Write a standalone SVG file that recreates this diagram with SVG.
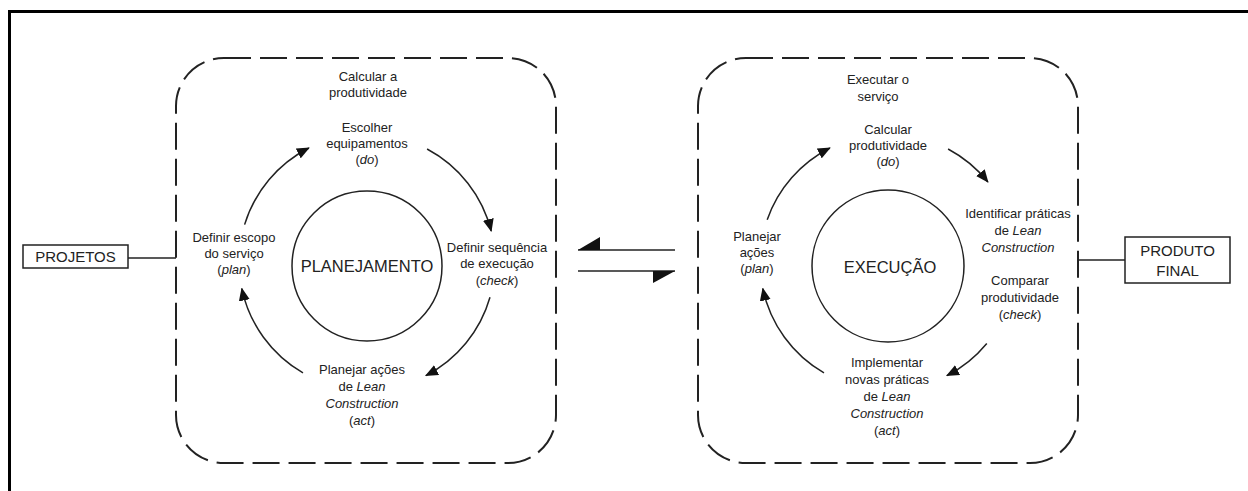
<svg xmlns="http://www.w3.org/2000/svg" width="1248" height="491" viewBox="0 0 1248 491">
<style>
text{font-family:"Liberation Sans",Arial,sans-serif;fill:#222;}
.lbl{font-size:13px;text-anchor:middle;}
.big{font-size:16.5px;text-anchor:middle;}
.box{font-size:15px;text-anchor:middle;}
.panel{fill:none;stroke:#222;stroke-width:2;stroke-dasharray:27 9;}
.ring{fill:none;stroke:#222;stroke-width:1.5;}
.arc{fill:none;stroke:#222;stroke-width:1.5;marker-end:url(#ah);}
.ln{fill:none;stroke:#222;stroke-width:1.5;}
.rect{fill:#fff;stroke:#222;stroke-width:1.5;}
</style>
<defs>
<marker id="ah" markerUnits="userSpaceOnUse" markerWidth="13" markerHeight="11" viewBox="0 0 13 11" refX="12" refY="5.5" orient="auto">
<path d="M0,0 L13,5.5 L0,11 z" fill="#111"/>
</marker>
</defs>
<rect width="1248" height="491" fill="#fff"/>
<g id="frame"><path d="M9.5,491 V11.5 H1248" fill="none" stroke="#000" stroke-width="3"/></g>

<g id="panel-planejamento">
<rect class="panel" x="176" y="58" width="380" height="405" rx="48" ry="48"/>
<circle class="ring" cx="367" cy="266" r="75"/>
<text class="big" x="367" y="272">PLANEJAMENTO</text>
<text class="lbl" x="368" y="81">Calcular a<tspan x="368" y="97">produtividade</tspan></text>
<text class="lbl" x="367" y="132">Escolher<tspan x="367" y="148">equipamentos</tspan><tspan x="367" y="164">(<tspan font-style="italic">do</tspan>)</tspan></text>
<text class="lbl" x="234" y="242">Definir escopo<tspan x="234" y="258">do serviço</tspan><tspan x="234" y="274">(<tspan font-style="italic">plan</tspan>)</tspan></text>
<text class="lbl" x="497" y="252">Definir sequência<tspan x="497" y="268">de execução</tspan><tspan x="497" y="285">(<tspan font-style="italic">check</tspan>)</tspan></text>
<text class="lbl" x="362" y="374">Planejar ações<tspan x="362" y="391">de <tspan font-style="italic">Lean</tspan></tspan><tspan x="362" y="408" font-style="italic">Construction</tspan><tspan x="362" y="425">(<tspan font-style="italic">act</tspan>)</tspan></text>
</g>

<g id="panel-execucao">
<rect class="panel" x="698" y="58" width="380" height="405" rx="48" ry="48"/>
<circle class="ring" cx="888" cy="266" r="76"/>
<text class="big" x="890" y="273">EXECUÇÃO</text>
<text class="lbl" x="878" y="84">Executar o<tspan x="878" y="101">serviço</tspan></text>
<text class="lbl" x="888" y="134">Calcular<tspan x="888" y="150">produtividade</tspan><tspan x="888" y="166">(<tspan font-style="italic">do</tspan>)</tspan></text>
<text class="lbl" x="1018" y="218">Identificar práticas<tspan x="1018" y="235">de <tspan font-style="italic">Lean</tspan></tspan><tspan x="1018" y="252" font-style="italic">Construction</tspan></text>
<text class="lbl" x="1020" y="285">Comparar<tspan x="1020" y="302">produtividade</tspan><tspan x="1020" y="319">(<tspan font-style="italic">check</tspan>)</tspan></text>
<text class="lbl" x="757" y="241">Planejar<tspan x="757" y="257">ações</tspan><tspan x="757" y="273">(<tspan font-style="italic">plan</tspan>)</tspan></text>
<text class="lbl" x="887" y="367">Implementar<tspan x="887" y="384">novas práticas</tspan><tspan x="887" y="401">de <tspan font-style="italic">Lean</tspan></tspan><tspan x="887" y="418" font-style="italic">Construction</tspan><tspan x="887" y="435">(<tspan font-style="italic">act</tspan>)</tspan></text>
</g>

<g id="projetos">
<rect class="rect" x="23" y="245" width="105" height="23"/>
<text class="box" x="75.5" y="262">PROJETOS</text>
</g>

<g id="produto-final">
<rect class="rect" x="1125" y="237" width="105" height="46"/>
<text class="box" x="1177.5" y="256">PRODUTO<tspan x="1177.5" y="276">FINAL</tspan></text>
</g>

<g id="connectors">
<path class="arc" d="M244.6,224.6 A128,128 0 0 1 308.9,148"/>
<path class="arc" d="M427.1,149 A128,128 0 0 1 491.2,231"/>
<path class="arc" d="M490,297.3 A128,128 0 0 1 425.9,375.6"/>
<path class="arc" d="M303,372.9 A128,128 0 0 1 241.8,288.6"/>
<path class="arc" d="M767.2,219.7 A128,128 0 0 1 829.9,148"/>
<path class="arc" d="M948.1,149 A128,128 0 0 1 987.9,182"/>
<path class="arc" d="M986.8,343.4 A128,128 0 0 1 946.9,375.6"/>
<path class="arc" d="M824,372.9 A128,128 0 0 1 762.8,288.6"/>
<path class="ln" d="M128,258 H176"/>
<path class="ln" d="M1078,260 H1125"/>
<path class="ln" d="M578,250 H675"/>
<path d="M578,250 L600,237 L600,250 z" fill="#111"/>
<path class="ln" d="M578,271 H675"/>
<path d="M675,271 L653,271 L653,283 z" fill="#111"/>
</g>
</svg>
